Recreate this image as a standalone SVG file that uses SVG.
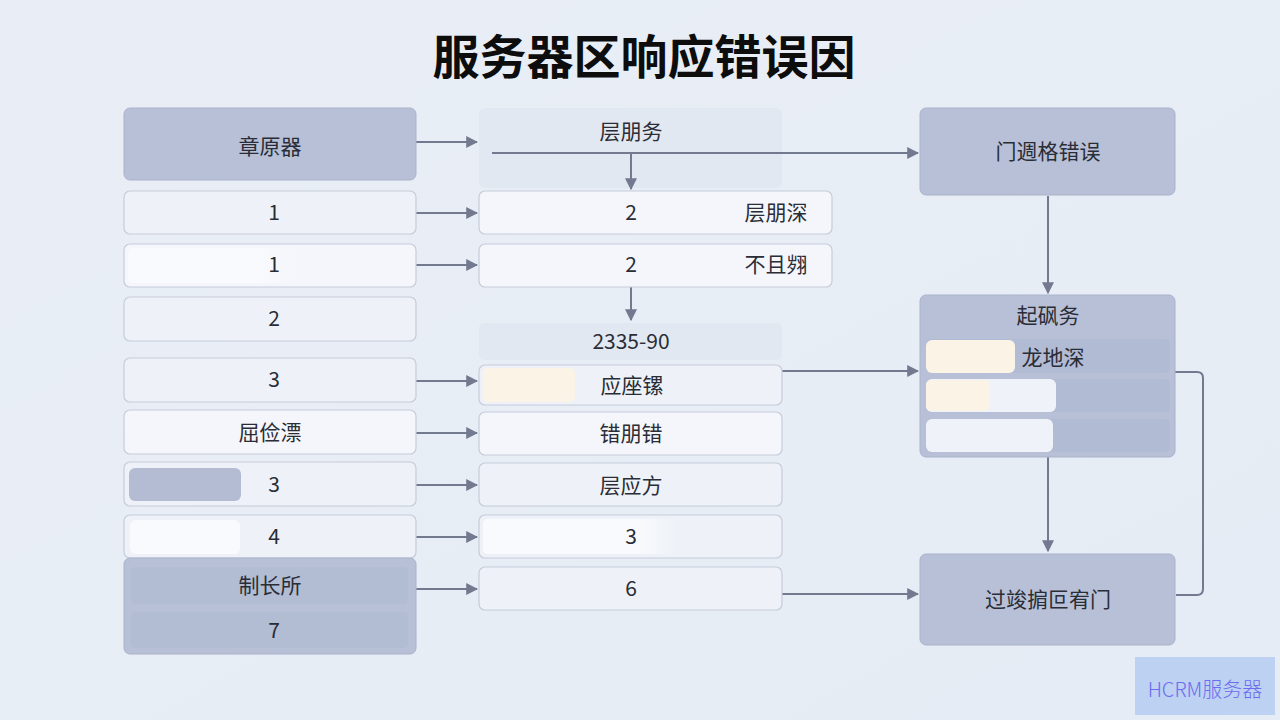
<svg xmlns="http://www.w3.org/2000/svg" width="1280" height="720" viewBox="0 0 1280 720">
<defs>
<linearGradient id="bg" x1="0" y1="0" x2="1" y2="1">
<stop offset="0" stop-color="#e9eef6"/>
<stop offset="1" stop-color="#e6ecf5"/>
</linearGradient>
<linearGradient id="pillW" x1="0" y1="0" x2="1" y2="0">
<stop offset="0" stop-color="#f8fafd"/>
<stop offset="0.8" stop-color="#f8fafd"/>
<stop offset="1" stop-color="#f8fafd" stop-opacity="0"/>
</linearGradient>
<marker id="ah" viewBox="0 0 10 10" refX="9" refY="5" markerWidth="12" markerHeight="12" markerUnits="userSpaceOnUse" orient="auto">
<path d="M0,0 L10,5 L0,10 z" fill="#737a90"/>
</marker>
<style>
text{font-family:"Noto Sans CJK SC","Noto Sans",sans-serif;fill:#2a2d36;text-anchor:middle;dominant-baseline:central}
.t{font-size:21px;transform:translateY(-2px)}
.title{font-size:47px;font-weight:bold;fill:#0d0d0d}
.row{fill:#eef2f8;stroke:#c6ccda;stroke-width:1.2}
.rowW{fill:#f4f6fb;stroke:#c6ccda;stroke-width:1.2}
.dark{fill:#b7c0d7;stroke:#aab3ca;stroke-width:1}
.ghost{fill:#e2e8f1;stroke:none}
.inner{fill:#aeb8d0}
.cream{fill:#fbf3e6}
.white{fill:#eff3f9}
.conn{stroke:#737a90;stroke-width:2;fill:none}
</style>
</defs>
<rect width="1280" height="720" fill="url(#bg)"/>
<text class="title" x="644" y="53">服务器区响应错误因</text>

<g id="mid-header"><rect class="ghost" x="479" y="108" width="303" height="80" rx="6"/><text class="t" x="631" y="132">层朋务</text></g>

<g id="connectors">
<path class="conn" d="M416,142 H477" marker-end="url(#ah)"/>
<path class="conn" d="M416,213 H477" marker-end="url(#ah)"/>
<path class="conn" d="M416,265 H477" marker-end="url(#ah)"/>
<path class="conn" d="M416,381 H477" marker-end="url(#ah)"/>
<path class="conn" d="M416,433 H477" marker-end="url(#ah)"/>
<path class="conn" d="M416,485 H477" marker-end="url(#ah)"/>
<path class="conn" d="M416,537 H477" marker-end="url(#ah)"/>
<path class="conn" d="M416,589 H477" marker-end="url(#ah)"/>
<path class="conn" d="M492,153 H918" marker-end="url(#ah)"/>
<path class="conn" d="M631,153 V189" marker-end="url(#ah)"/>
<path class="conn" d="M631,287 V320" marker-end="url(#ah)"/>
<path class="conn" d="M782,371 H918" marker-end="url(#ah)"/>
<path class="conn" d="M782,594 H918" marker-end="url(#ah)"/>
<path class="conn" d="M1048,196 V293" marker-end="url(#ah)"/>
<path class="conn" d="M1048,457 V551" marker-end="url(#ah)"/>
<path class="conn" d="M1175,372 H1197 Q1203,372 1203,378 V589 Q1203,595 1197,595 H1176"/>
</g>

<g id="left-header"><rect class="dark" x="124" y="108" width="292" height="72" rx="6"/><text class="t" x="270" y="147">章原器</text></g>
<g id="left-1a"><rect class="row" x="124" y="191" width="292" height="43" rx="6"/><text class="t" x="274" y="213">1</text></g>
<g id="left-1b"><rect class="rowW" x="124" y="244" width="292" height="43" rx="6"/><rect x="128" y="248" width="166" height="35" rx="5" fill="url(#pillW)"/><text class="t" x="274" y="265">1</text></g>
<g id="left-2"><rect class="row" x="124" y="297" width="292" height="44" rx="6"/><text class="t" x="274" y="319">2</text></g>
<g id="left-3a"><rect class="row" x="124" y="358" width="292" height="44" rx="6"/><text class="t" x="274" y="380">3</text></g>
<g id="left-w"><rect class="rowW" x="124" y="410" width="292" height="44" rx="6"/><text class="t" x="270" y="433">屈俭漂</text></g>
<g id="left-3b"><rect class="row" x="124" y="462" width="292" height="44" rx="6"/><rect x="129" y="468" width="112" height="33" rx="6" fill="#b3bcd3"/><text class="t" x="274" y="485">3</text></g>
<g id="left-4"><rect class="row" x="124" y="515" width="292" height="43" rx="6"/><rect x="130" y="520" width="110" height="34" rx="6" fill="#f8fafd"/><text class="t" x="274" y="537">4</text></g>
<g id="left-group"><rect class="dark" x="124" y="558" width="292" height="96" rx="6"/><rect class="inner" x="131" y="567" width="277" height="37" rx="5" fill-opacity="0.55"/><rect class="inner" x="131" y="612" width="277" height="36" rx="5" fill-opacity="0.55"/><text class="t" x="270" y="586">制长所</text><text class="t" x="274" y="631">7</text></g>

<g id="mid-2a"><rect class="rowW" x="479" y="191" width="353" height="43" rx="6"/><text class="t" x="631" y="213">2</text><text class="t" x="776" y="213">层朋深</text></g>
<g id="mid-2b"><rect class="rowW" x="479" y="244" width="353" height="43" rx="6"/><text class="t" x="631" y="265">2</text><text class="t" x="776" y="265">不且翙</text></g>
<g id="mid-label"><rect class="ghost" x="479" y="323" width="303" height="37" rx="5"/><text class="t" x="631" y="342">2335-90</text></g>
<g id="mid-a"><rect class="row" x="479" y="365" width="303" height="40" rx="6"/><rect class="cream" x="483" y="368" width="92" height="34" rx="5"/><text class="t" x="632" y="386">应座镙</text></g>
<g id="mid-b"><rect class="rowW" x="479" y="412" width="303" height="43" rx="6"/><text class="t" x="631" y="434">错朋错</text></g>
<g id="mid-c"><rect class="row" x="479" y="463" width="303" height="43" rx="6"/><text class="t" x="631" y="486">层应方</text></g>
<g id="mid-3"><rect class="row" x="479" y="515" width="303" height="43" rx="6"/><rect x="483" y="519" width="194" height="35" rx="5" fill="url(#pillW)"/><text class="t" x="631" y="537">3</text></g>
<g id="mid-6"><rect class="row" x="479" y="567" width="303" height="43" rx="6"/><text class="t" x="631" y="589">6</text></g>

<g id="right-top"><rect class="dark" x="920" y="108" width="255" height="87" rx="6"/><text class="t" x="1048" y="152">门週格错误</text></g>
<g id="right-group"><rect class="dark" x="920" y="295" width="255" height="162" rx="6"/><text class="t" x="1048" y="316">起砜务</text>
<rect class="inner" x="926" y="339" width="244" height="34" rx="5" fill-opacity="0.6"/><rect class="cream" x="926" y="340" width="89" height="33" rx="6"/><text class="t" x="1053" y="358">龙地深</text>
<rect class="inner" x="926" y="379" width="244" height="33" rx="5" fill-opacity="0.6"/><rect class="white" x="926" y="379" width="130" height="33" rx="6"/><rect class="cream" x="926" y="380" width="64" height="31" rx="5"/>
<rect class="inner" x="926" y="419" width="244" height="33" rx="5" fill-opacity="0.6"/><rect class="white" x="926" y="419" width="127" height="33" rx="6"/></g>
<g id="right-bottom"><rect class="dark" x="920" y="554" width="255" height="91" rx="6"/><text class="t" x="1048" y="600">过竣掮叵宥门</text></g>

<g id="watermark"><rect x="1135" y="657" width="140" height="58" fill="#bdd1f2"/><text x="1205" y="688" style="font-size:20px;fill:#6c6cf0;font-weight:300">HCRM服务器</text></g>
</svg>
